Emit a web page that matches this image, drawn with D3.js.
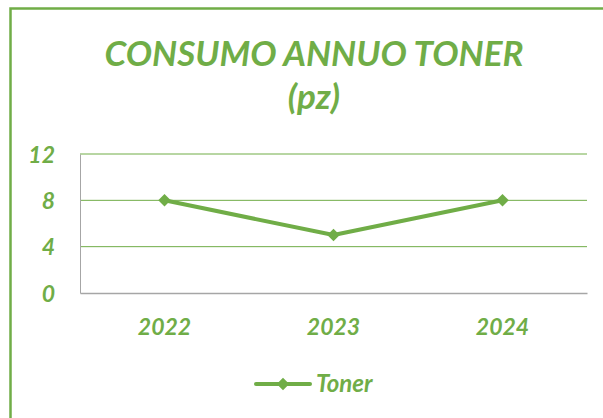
<!DOCTYPE html>
<html>
<head>
<meta charset="utf-8">
<script src="https://d3js.org/d3.v7.min.js"></script>
<style>
  body { margin: 0; background: #fff; }
  svg text { font-family: Lato, "Open Sans", sans-serif; font-weight: bold; font-style: italic; fill: #70AD47; }
</style>
</head>
<body>
<div id="chart"></div>
<script>
// chart data
var years = ['2022', '2023', '2024']
var toner = [8, 5, 8]
var yTicks = [0, 4, 8, 12]
var seriesName = 'Toner'

var width = 603
var height = 418
var green = '#70AD47'

var margin = {top: 154, right: 16, bottom: 125, left: 80}
var plotW = width - margin.left - margin.right
var plotH = height - margin.top - margin.bottom

var svg = d3.select('#chart')
  .append('svg')
  .attr('width', width)
  .attr('height', height)

// outer frame (only top and left edge visible)
svg.append('path')
  .attr('d', 'M10.5,' + height + 'V8.5H' + width)
  .attr('fill', 'none')
  .attr('stroke', green)
  .attr('stroke-width', 2.5)

// title
var title = svg.append('text')
  .attr('text-anchor', 'middle')
  .style('font-size', '35px')
title.append('tspan').attr('x', 314).attr('y', 66).text('CONSUMO ANNUO TONER')
title.append('tspan').attr('x', 314).attr('y', 109).text('(pz)')

var g = svg.append('g')
  .attr('transform', 'translate(' + margin.left + ',' + margin.top + ')')

var x = d3.scaleBand().domain(years).range([0, plotW])
var y = d3.scaleLinear().domain([0, 12]).range([plotH, 0])

// gridlines
g.selectAll('.grid')
  .data(yTicks.filter(function (d) { return d > 0 }))
  .enter()
  .append('line')
  .attr('x1', 0)
  .attr('x2', plotW)
  .attr('y1', function (d) { return y(d) })
  .attr('y2', function (d) { return y(d) })
  .attr('stroke', green)
  .attr('stroke-width', 1)

// y axis
var yAxis = g.append('g')
  .call(d3.axisLeft(y).tickValues(yTicks).tickSize(0).tickPadding(25))
yAxis.select('.domain').attr('stroke', '#a6a6a6').attr('stroke-width', 1)
yAxis.selectAll('text').style('font-size', '23px').attr('dy', '0.36em')

// x axis
var xAxis = g.append('g')
  .attr('transform', 'translate(0,' + plotH + ')')
  .call(d3.axisBottom(x).tickSize(0).tickPadding(26))
xAxis.select('.domain').attr('stroke', '#a6a6a6').attr('stroke-width', 1.5)
xAxis.selectAll('text').style('font-size', '23px')

// line
var line = d3.line()
  .x(function (d, i) { return x(years[i]) + x.bandwidth() / 2 })
  .y(function (d) { return y(d) })

g.append('path')
  .datum(toner)
  .attr('d', line)
  .attr('fill', 'none')
  .attr('stroke', green)
  .attr('stroke-width', 4)
  .attr('stroke-linejoin', 'round')

var diamond = d3.symbol().type(d3.symbolDiamond2).size(100)

g.selectAll('.pt')
  .data(toner)
  .enter()
  .append('path')
  .attr('d', diamond)
  .attr('fill', green)
  .attr('transform', function (d, i) {
    return 'translate(' + (x(years[i]) + x.bandwidth() / 2) + ',' + y(d) + ')'
  })

// legend
var leg = svg.append('g').attr('transform', 'translate(256,384)')
leg.append('line')
  .attr('x1', 0).attr('x2', 54)
  .attr('stroke', green).attr('stroke-width', 4).attr('stroke-linecap', 'round')
leg.append('path')
  .attr('d', diamond)
  .attr('fill', green)
  .attr('transform', 'translate(27,0)')
leg.append('text')
  .attr('x', 60)
  .attr('y', 8)
  .style('font-size', '24px')
  .text(seriesName)
</script>
</body>
</html>
